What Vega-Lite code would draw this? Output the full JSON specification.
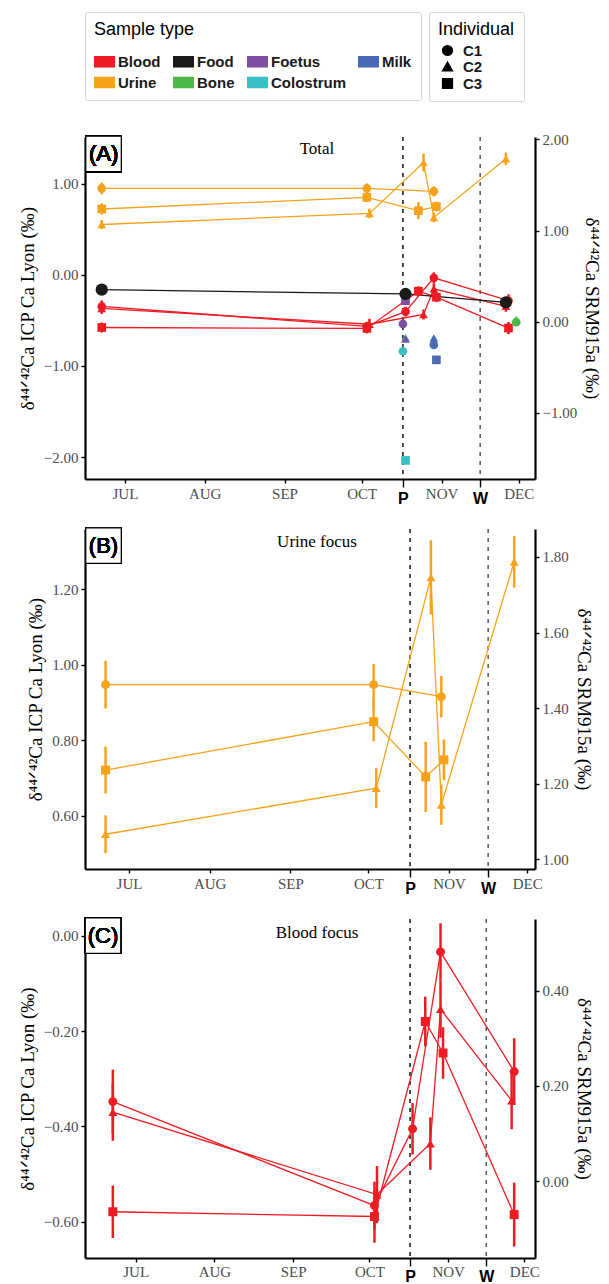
{
  "$schema": "https://vega.github.io/schema/vega-lite/v6.json",
  "background": "white",
  "padding": {"left": 18, "top": 11, "right": 0, "bottom": 0},
  "datasets": {
    "samples": [
      {"t": "Blood", "ind": "C1", "date": "2019-06-22", "v": -0.348, "e": 0.067},
      {"t": "Blood", "ind": "C1", "date": "2019-10-03", "v": -0.566, "e": 0.05},
      {"t": "Blood", "ind": "C1", "date": "2019-10-18", "v": -0.405, "e": 0.054},
      {"t": "Blood", "ind": "C1", "date": "2019-10-29", "v": -0.034, "e": 0.06},
      {"t": "Blood", "ind": "C1", "date": "2019-11-27", "v": -0.285, "e": 0.07},
      {"t": "Blood", "ind": "C2", "date": "2019-06-22", "v": -0.37, "e": 0.06},
      {"t": "Blood", "ind": "C2", "date": "2019-10-04", "v": -0.543, "e": 0.06},
      {"t": "Blood", "ind": "C2", "date": "2019-10-25", "v": -0.436, "e": 0.055},
      {"t": "Blood", "ind": "C2", "date": "2019-10-29", "v": -0.154, "e": 0.06},
      {"t": "Blood", "ind": "C2", "date": "2019-11-26", "v": -0.346, "e": 0.06},
      {"t": "Blood", "ind": "C3", "date": "2019-06-22", "v": -0.579, "e": 0.055},
      {"t": "Blood", "ind": "C3", "date": "2019-10-03", "v": -0.589, "e": 0.055},
      {"t": "Blood", "ind": "C3", "date": "2019-10-23", "v": -0.18, "e": 0.052},
      {"t": "Blood", "ind": "C3", "date": "2019-10-30", "v": -0.246, "e": 0.054},
      {"t": "Blood", "ind": "C3", "date": "2019-11-27", "v": -0.585, "e": 0.067},
      {"t": "Urine", "ind": "C1", "date": "2019-06-22", "v": 0.947, "e": 0.063},
      {"t": "Urine", "ind": "C1", "date": "2019-10-03", "v": 0.947, "e": 0.055},
      {"t": "Urine", "ind": "C1", "date": "2019-10-29", "v": 0.915, "e": 0.055},
      {"t": "Urine", "ind": "C2", "date": "2019-06-22", "v": 0.551, "e": 0.05},
      {"t": "Urine", "ind": "C2", "date": "2019-10-04", "v": 0.673, "e": 0.053},
      {"t": "Urine", "ind": "C2", "date": "2019-10-25", "v": 1.231, "e": 0.098},
      {"t": "Urine", "ind": "C2", "date": "2019-10-29", "v": 0.629, "e": 0.053},
      {"t": "Urine", "ind": "C2", "date": "2019-11-26", "v": 1.272, "e": 0.068},
      {"t": "Urine", "ind": "C3", "date": "2019-06-22", "v": 0.721, "e": 0.062},
      {"t": "Urine", "ind": "C3", "date": "2019-10-03", "v": 0.849, "e": 0.052},
      {"t": "Urine", "ind": "C3", "date": "2019-10-23", "v": 0.703, "e": 0.093},
      {"t": "Urine", "ind": "C3", "date": "2019-10-30", "v": 0.748, "e": 0.054},
      {"t": "Colostrum", "ind": "C2", "date": "2019-10-18", "v": -0.69},
      {"t": "Colostrum", "ind": "C1", "date": "2019-10-17", "v": -0.84},
      {"t": "Colostrum", "ind": "C3", "date": "2019-10-18", "v": -2.037},
      {"t": "Foetus", "ind": "C1", "date": "2019-10-17", "v": -0.54},
      {"t": "Foetus", "ind": "C2", "date": "2019-10-18", "v": -0.705},
      {"t": "Foetus", "ind": "C3", "date": "2019-10-18", "v": -0.285},
      {"t": "Milk", "ind": "C2", "date": "2019-10-29", "v": -0.693},
      {"t": "Milk", "ind": "C1", "date": "2019-10-29", "v": -0.77},
      {"t": "Milk", "ind": "C3", "date": "2019-10-30", "v": -0.934},
      {"t": "Bone", "ind": "C1", "date": "2019-11-30", "v": -0.52},
      {"t": "Bone", "ind": "C2", "date": "2019-11-30", "v": -0.49},
      {"t": "Food", "ind": "C1", "date": "2019-06-22", "v": -0.164},
      {"t": "Food", "ind": "C1", "date": "2019-10-18", "v": -0.211},
      {"t": "Food", "ind": "C1", "date": "2019-11-26", "v": -0.303}
    ],
    "events": [
      {"ev": "P", "date": "2019-10-17"},
      {"ev": "W", "date": "2019-11-16"}
    ]
  },
  "resolve": {"scale": {"x": "independent", "y": "independent", "color": "shared", "shape": "shared"}},
  "spacing": 19,
  "vconcat": [
    {
      "width": 450, "height": 342,
      "title": {"text": "Total", "font": "Liberation Serif", "fontSize": 17, "fontWeight": "normal", "color": "black", "offset": -26, "dx": 7, "anchor": "middle", "frame": "group"},
      "layer": [
        {
          "data": {"name": "events"},
          "mark": {"type": "rule", "strokeDash": [4, 5], "strokeWidth": 1.4},
          "encoding": {
            "x": {"field": "date", "type": "temporal", "scale": {"type": "utc", "domain": [1560600000000, 1575702720000]},
              "axis": {"values": [1561939200000, 1564617600000, 1567296000000, 1569888000000, 1571270400000, 1572566400000, 1573862400000, 1575158400000],
                "labelExpr": "time(datum.value) == 1571270400000 ? 'P' : (time(datum.value) == 1573862400000 ? 'W' : upper(utcFormat(datum.value, '%b')))",
                "title": null, "grid": false, "domainColor": "black", "domainWidth": 2.2, "tickColor": "black", "tickWidth": 1.4,
                "tickSize": {"condition": {"test": "time(datum.value) == 1571270400000 || time(datum.value) == 1573862400000", "value": 8}, "value": 4},
                "labelFont": {"condition": {"test": "time(datum.value) == 1571270400000 || time(datum.value) == 1573862400000", "value": "Liberation Sans"}, "value": "Liberation Serif"},
                "labelFontWeight": {"condition": {"test": "time(datum.value) == 1571270400000 || time(datum.value) == 1573862400000", "value": "bold"}, "value": "normal"},
                "labelFontSize": {"condition": {"test": "time(datum.value) == 1571270400000 || time(datum.value) == 1573862400000", "value": 16}, "value": 15},
                "labelColor": {"condition": {"test": "time(datum.value) == 1571270400000 || time(datum.value) == 1573862400000", "value": "black"}, "value": "#4d4d4d"},
                "labelPadding": 3, "labelOverlap": false, "labelFlush": false}},
            "color": {"condition": {"test": "datum.ev === 'W'", "value": "#4d4d4d"}, "value": "black"}
          }
        },
        {
          "data": {"name": "samples"},
          "encoding": {
            "x": {"field": "date", "type": "temporal", "scale": {"type": "utc", "domain": [1560600000000, 1575702720000]}},
            "y": {"field": "v", "type": "quantitative", "scale": {"domain": [-2.241, 1.511], "zero": false, "nice": false},
              "axis": {"values": [-2, -1, 0, 1], "format": ".2f", "title": "δ⁴⁴ᐟ⁴²Ca ICP Ca Lyon (‰)", "titleFont": "Liberation Serif", "titleFontSize": 19, "titleFontWeight": "normal", "titleColor": "black", "titlePadding": 6,
                "labelFont": "Liberation Serif", "labelFontSize": 15, "labelColor": "#4d4d4d", "labelPadding": 3, "tickSize": 4, "tickColor": "black", "tickWidth": 1.4, "domainColor": "black", "domainWidth": 2.2, "grid": false}}
          },
          "layer": [
            {
              "mark": {"type": "line", "strokeWidth": 1.3},
              "encoding": {
                "color": {"field": "t", "type": "nominal", "scale": {"domain": ["Blood", "Food", "Foetus", "Milk", "Urine", "Bone", "Colostrum"], "range": ["#ED1C24", "#1A1A1A", "#7E4FA0", "#4A6BB3", "#F7A21B", "#4DB848", "#3ABFC4"]}},
                "detail": [{"field": "t"}, {"field": "ind"}]
              }
            },
            {
              "transform": [{"filter": "datum.e != null"}],
              "mark": {"type": "errorbar", "thickness": 2.5},
              "encoding": {
                "yError": {"field": "e"},
                "color": {"field": "t", "type": "nominal", "scale": {"domain": ["Blood", "Food", "Foetus", "Milk", "Urine", "Bone", "Colostrum"], "range": ["#ED1C24", "#1A1A1A", "#7E4FA0", "#4A6BB3", "#F7A21B", "#4DB848", "#3ABFC4"]}}
              }
            },
            {
              "mark": {"type": "point", "filled": true, "opacity": 1},
              "encoding": {
                "color": {"field": "t", "type": "nominal", "scale": {"domain": ["Blood", "Food", "Foetus", "Milk", "Urine", "Bone", "Colostrum"], "range": ["#ED1C24", "#1A1A1A", "#7E4FA0", "#4A6BB3", "#F7A21B", "#4DB848", "#3ABFC4"]},
                  "legend": {"title": "Sample type", "orient": "top", "columns": 4, "direction": "horizontal", "symbolType": "M-1,-0.55H1V0.55H-1Z", "symbolSize": 441, "symbolStrokeWidth": 0,
                    "labelFont": "Liberation Sans", "labelFontWeight": "bold", "labelFontSize": 15, "labelColor": "#1a1a1a", "labelOffset": 3,
                    "titleFont": "Liberation Sans", "titleFontSize": 18, "titleFontWeight": "normal", "titleColor": "black", "titlePadding": 12,
                    "padding": 9, "strokeColor": "#d4d4d4", "cornerRadius": 2, "columnPadding": 12, "rowPadding": 2, "offset": 31}},
                "shape": {"field": "ind", "type": "nominal", "scale": {"domain": ["C1", "C2", "C3"], "range": ["circle", "triangle-up", "square"]},
                  "legend": {"title": "Individual", "orient": "top", "direction": "vertical", "symbolFillColor": "black", "symbolStrokeColor": "black", "symbolSize": 95,
                    "labelFont": "Liberation Sans", "labelFontWeight": "bold", "labelFontSize": 15, "labelColor": "#1a1a1a", "labelOffset": 8, "symbolOffset": 2,
                    "titleFont": "Liberation Sans", "titleFontSize": 18, "titleFontWeight": "normal", "titleColor": "black", "titlePadding": 4,
                    "padding": 9, "strokeColor": "#d4d4d4", "cornerRadius": 2, "rowPadding": 0, "offset": 31}},
                "size": {"condition": {"test": "datum.t === 'Food'", "value": 150}, "value": 75}
              }
            },
            {
              "mark": {"type": "point", "shape": "square", "size": 1260, "fill": "white", "stroke": "black", "strokeWidth": 1.2, "fillOpacity": 1, "opacity": 1},
              "encoding": {"x": {"datum": 1561222080000, "type": "temporal"}, "y": {"datum": 1.325, "type": "quantitative"}}
            },
            {
              "mark": {"type": "text", "text": "(A)", "font": "Liberation Sans", "fontSize": 22, "fontWeight": "normal", "align": "center", "baseline": "middle", "color": "black"},
              "encoding": {"x": {"datum": 1561222080000, "type": "temporal"}, "y": {"datum": 1.325, "type": "quantitative"}}
            }
          ]
        },
        {
          "data": {"name": "samples"},
          "mark": {"type": "point", "opacity": 0, "clip": true},
          "encoding": {
            "x": {"field": "date", "type": "temporal", "scale": {"type": "utc", "domain": [1560600000000, 1575702720000]}},
            "y": {"field": "v", "type": "quantitative", "scale": {"domain": [-1.726, 2.026], "zero": false, "nice": false},
              "axis": {"orient": "right", "values": [-1, 0, 1, 2], "format": ".2f", "title": "δ⁴⁴ᐟ⁴²Ca SRM915a (‰)", "titleFont": "Liberation Serif", "titleFontSize": 19, "titleFontWeight": "normal", "titleColor": "black", "titlePadding": 5,
                "labelFont": "Liberation Serif", "labelFontSize": 15, "labelColor": "#4d4d4d", "labelPadding": 3, "tickSize": 4, "tickColor": "black", "tickWidth": 1.4, "domainColor": "black", "domainWidth": 2.2, "grid": false}}
          }
        }
      ],
      "resolve": {"scale": {"y": "independent"}}
    },
    {
      "width": 450, "height": 340,
      "title": {"text": "Urine focus", "font": "Liberation Serif", "fontSize": 17, "fontWeight": "normal", "color": "black", "offset": -26, "dx": 7, "anchor": "middle", "frame": "group"},
      "layer": [
        {
          "data": {"name": "events"},
          "mark": {"type": "rule", "strokeDash": [4, 5], "strokeWidth": 1.4},
          "encoding": {
            "x": {"field": "date", "type": "temporal", "scale": {"type": "utc", "domain": [1560479040000, 1575417600000]},
              "axis": {"values": [1561939200000, 1564617600000, 1567296000000, 1569888000000, 1571270400000, 1572566400000, 1573862400000, 1575158400000],
                "labelExpr": "time(datum.value) == 1571270400000 ? 'P' : (time(datum.value) == 1573862400000 ? 'W' : upper(utcFormat(datum.value, '%b')))",
                "title": null, "grid": false, "domainColor": "black", "domainWidth": 2.2, "tickColor": "black", "tickWidth": 1.4,
                "tickSize": {"condition": {"test": "time(datum.value) == 1571270400000 || time(datum.value) == 1573862400000", "value": 8}, "value": 4},
                "labelFont": {"condition": {"test": "time(datum.value) == 1571270400000 || time(datum.value) == 1573862400000", "value": "Liberation Sans"}, "value": "Liberation Serif"},
                "labelFontWeight": {"condition": {"test": "time(datum.value) == 1571270400000 || time(datum.value) == 1573862400000", "value": "bold"}, "value": "normal"},
                "labelFontSize": {"condition": {"test": "time(datum.value) == 1571270400000 || time(datum.value) == 1573862400000", "value": 16}, "value": 15},
                "labelColor": {"condition": {"test": "time(datum.value) == 1571270400000 || time(datum.value) == 1573862400000", "value": "black"}, "value": "#4d4d4d"},
                "labelPadding": 3, "labelOverlap": false, "labelFlush": false}},
            "color": {"condition": {"test": "datum.ev === 'W'", "value": "#4d4d4d"}, "value": "black"}
          }
        },
        {
          "data": {"name": "samples"},
          "transform": [{"filter": "datum.t === 'Urine'"}],
          "encoding": {
            "x": {"field": "date", "type": "temporal", "scale": {"type": "utc", "domain": [1560479040000, 1575417600000]}},
            "y": {"field": "v", "type": "quantitative", "scale": {"domain": [0.459, 1.359], "zero": false, "nice": false},
              "axis": {"values": [0.6, 0.8, 1.0, 1.2], "format": ".2f", "title": "δ⁴⁴ᐟ⁴²Ca ICP Ca Lyon (‰)", "titleFont": "Liberation Serif", "titleFontSize": 19, "titleFontWeight": "normal", "titleColor": "black", "titlePadding": 6,
                "labelFont": "Liberation Serif", "labelFontSize": 15, "labelColor": "#4d4d4d", "labelPadding": 3, "tickSize": 4, "tickColor": "black", "tickWidth": 1.4, "domainColor": "black", "domainWidth": 2.2, "grid": false}}
          },
          "layer": [
            {
              "mark": {"type": "line", "strokeWidth": 1.3},
              "encoding": {
                "color": {"field": "t", "type": "nominal", "scale": {"domain": ["Blood", "Food", "Foetus", "Milk", "Urine", "Bone", "Colostrum"], "range": ["#ED1C24", "#1A1A1A", "#7E4FA0", "#4A6BB3", "#F7A21B", "#4DB848", "#3ABFC4"]}},
                "detail": [{"field": "t"}, {"field": "ind"}]
              }
            },
            {
              "mark": {"type": "errorbar", "thickness": 2.5},
              "encoding": {
                "yError": {"field": "e"},
                "color": {"field": "t", "type": "nominal", "scale": {"domain": ["Blood", "Food", "Foetus", "Milk", "Urine", "Bone", "Colostrum"], "range": ["#ED1C24", "#1A1A1A", "#7E4FA0", "#4A6BB3", "#F7A21B", "#4DB848", "#3ABFC4"]}}
              }
            },
            {
              "mark": {"type": "point", "filled": true, "opacity": 1, "size": 80},
              "encoding": {
                "color": {"field": "t", "type": "nominal", "scale": {"domain": ["Blood", "Food", "Foetus", "Milk", "Urine", "Bone", "Colostrum"], "range": ["#ED1C24", "#1A1A1A", "#7E4FA0", "#4A6BB3", "#F7A21B", "#4DB848", "#3ABFC4"]}},
                "shape": {"field": "ind", "type": "nominal", "scale": {"domain": ["C1", "C2", "C3"], "range": ["circle", "triangle-up", "square"]}}
              }
            },
            {
              "mark": {"type": "point", "shape": "square", "size": 1260, "fill": "white", "stroke": "black", "strokeWidth": 1.2, "fillOpacity": 1, "opacity": 1},
              "encoding": {"x": {"datum": 1561093344000, "type": "temporal"}, "y": {"datum": 1.315, "type": "quantitative"}}
            },
            {
              "mark": {"type": "text", "text": "(B)", "font": "Liberation Sans", "fontSize": 22, "fontWeight": "normal", "align": "center", "baseline": "middle", "color": "black"},
              "encoding": {"x": {"datum": 1561093344000, "type": "temporal"}, "y": {"datum": 1.315, "type": "quantitative"}}
            }
          ]
        },
        {
          "data": {"name": "samples"},
          "transform": [{"filter": "datum.t === 'Urine'"}],
          "mark": {"type": "point", "opacity": 0, "clip": true},
          "encoding": {
            "x": {"field": "date", "type": "temporal", "scale": {"type": "utc", "domain": [1560479040000, 1575417600000]}},
            "y": {"field": "v", "type": "quantitative", "scale": {"domain": [0.974, 1.874], "zero": false, "nice": false},
              "axis": {"orient": "right", "values": [1.0, 1.2, 1.4, 1.6, 1.8], "format": ".2f", "title": "δ⁴⁴ᐟ⁴²Ca SRM915a (‰)", "titleFont": "Liberation Serif", "titleFontSize": 19, "titleFontWeight": "normal", "titleColor": "black", "titlePadding": 5,
                "labelFont": "Liberation Serif", "labelFontSize": 15, "labelColor": "#4d4d4d", "labelPadding": 3, "tickSize": 4, "tickColor": "black", "tickWidth": 1.4, "domainColor": "black", "domainWidth": 2.2, "grid": false}}
          }
        }
      ],
      "resolve": {"scale": {"y": "independent"}}
    },
    {
      "width": 450, "height": 339,
      "title": {"text": "Blood focus", "font": "Liberation Serif", "fontSize": 17, "fontWeight": "normal", "color": "black", "offset": -26, "dx": 7, "anchor": "middle", "frame": "group"},
      "layer": [
        {
          "data": {"name": "events"},
          "mark": {"type": "rule", "strokeDash": [4, 5], "strokeWidth": 1.4},
          "encoding": {
            "x": {"field": "date", "type": "temporal", "scale": {"type": "utc", "domain": [1560214656000, 1575521280000]},
              "axis": {"values": [1561939200000, 1564617600000, 1567296000000, 1569888000000, 1571270400000, 1572566400000, 1573862400000, 1575158400000],
                "labelExpr": "time(datum.value) == 1571270400000 ? 'P' : (time(datum.value) == 1573862400000 ? 'W' : upper(utcFormat(datum.value, '%b')))",
                "title": null, "grid": false, "domainColor": "black", "domainWidth": 2.2, "tickColor": "black", "tickWidth": 1.4,
                "tickSize": {"condition": {"test": "time(datum.value) == 1571270400000 || time(datum.value) == 1573862400000", "value": 8}, "value": 4},
                "labelFont": {"condition": {"test": "time(datum.value) == 1571270400000 || time(datum.value) == 1573862400000", "value": "Liberation Sans"}, "value": "Liberation Serif"},
                "labelFontWeight": {"condition": {"test": "time(datum.value) == 1571270400000 || time(datum.value) == 1573862400000", "value": "bold"}, "value": "normal"},
                "labelFontSize": {"condition": {"test": "time(datum.value) == 1571270400000 || time(datum.value) == 1573862400000", "value": 16}, "value": 15},
                "labelColor": {"condition": {"test": "time(datum.value) == 1571270400000 || time(datum.value) == 1573862400000", "value": "black"}, "value": "#4d4d4d"},
                "labelPadding": 2, "labelOverlap": false, "labelFlush": false}},
            "color": {"condition": {"test": "datum.ev === 'W'", "value": "#4d4d4d"}, "value": "black"}
          }
        },
        {
          "data": {"name": "samples"},
          "transform": [{"filter": "datum.t === 'Blood'"}],
          "encoding": {
            "x": {"field": "date", "type": "temporal", "scale": {"type": "utc", "domain": [1560214656000, 1575521280000]}},
            "y": {"field": "v", "type": "quantitative", "scale": {"domain": [-0.676, 0.035], "zero": false, "nice": false},
              "axis": {"values": [-0.6, -0.4, -0.2, 0], "format": ".2f", "title": "δ⁴⁴ᐟ⁴²Ca ICP Ca Lyon (‰)", "titleFont": "Liberation Serif", "titleFontSize": 19, "titleFontWeight": "normal", "titleColor": "black", "titlePadding": 6,
                "labelFont": "Liberation Serif", "labelFontSize": 15, "labelColor": "#4d4d4d", "labelPadding": 3, "tickSize": 4, "tickColor": "black", "tickWidth": 1.4, "domainColor": "black", "domainWidth": 2.2, "grid": false}}
          },
          "layer": [
            {
              "mark": {"type": "line", "strokeWidth": 1.3},
              "encoding": {
                "color": {"field": "t", "type": "nominal", "scale": {"domain": ["Blood", "Food", "Foetus", "Milk", "Urine", "Bone", "Colostrum"], "range": ["#ED1C24", "#1A1A1A", "#7E4FA0", "#4A6BB3", "#F7A21B", "#4DB848", "#3ABFC4"]}},
                "detail": [{"field": "t"}, {"field": "ind"}]
              }
            },
            {
              "mark": {"type": "errorbar", "thickness": 2.5},
              "encoding": {
                "yError": {"field": "e"},
                "color": {"field": "t", "type": "nominal", "scale": {"domain": ["Blood", "Food", "Foetus", "Milk", "Urine", "Bone", "Colostrum"], "range": ["#ED1C24", "#1A1A1A", "#7E4FA0", "#4A6BB3", "#F7A21B", "#4DB848", "#3ABFC4"]}}
              }
            },
            {
              "mark": {"type": "point", "filled": true, "opacity": 1, "size": 80},
              "encoding": {
                "color": {"field": "t", "type": "nominal", "scale": {"domain": ["Blood", "Food", "Foetus", "Milk", "Urine", "Bone", "Colostrum"], "range": ["#ED1C24", "#1A1A1A", "#7E4FA0", "#4A6BB3", "#F7A21B", "#4DB848", "#3ABFC4"]}},
                "shape": {"field": "ind", "type": "nominal", "scale": {"domain": ["C1", "C2", "C3"], "range": ["circle", "triangle-up", "square"]}}
              }
            },
            {
              "mark": {"type": "point", "shape": "square", "size": 1260, "fill": "white", "stroke": "black", "strokeWidth": 1.2, "fillOpacity": 1, "opacity": 1},
              "encoding": {"x": {"datum": 1560827232000, "type": "temporal"}, "y": {"datum": 0.0, "type": "quantitative"}}
            },
            {
              "mark": {"type": "text", "text": "(C)", "font": "Liberation Sans", "fontSize": 22, "fontWeight": "normal", "align": "center", "baseline": "middle", "color": "black"},
              "encoding": {"x": {"datum": 1560827232000, "type": "temporal"}, "y": {"datum": 0.0, "type": "quantitative"}}
            }
          ]
        },
        {
          "data": {"name": "samples"},
          "transform": [{"filter": "datum.t === 'Blood'"}],
          "mark": {"type": "point", "opacity": 0, "clip": true},
          "encoding": {
            "x": {"field": "date", "type": "temporal", "scale": {"type": "utc", "domain": [1560214656000, 1575521280000]}},
            "y": {"field": "v", "type": "quantitative", "scale": {"domain": [-0.161, 0.55], "zero": false, "nice": false},
              "axis": {"orient": "right", "values": [0, 0.2, 0.4], "format": ".2f", "title": "δ⁴⁴ᐟ⁴²Ca SRM915a (‰)", "titleFont": "Liberation Serif", "titleFontSize": 19, "titleFontWeight": "normal", "titleColor": "black", "titlePadding": 5,
                "labelFont": "Liberation Serif", "labelFontSize": 15, "labelColor": "#4d4d4d", "labelPadding": 3, "tickSize": 4, "tickColor": "black", "tickWidth": 1.4, "domainColor": "black", "domainWidth": 2.2, "grid": false}}
          }
        }
      ],
      "resolve": {"scale": {"y": "independent"}}
    }
  ],
  "config": {"view": {"stroke": null}}
}
